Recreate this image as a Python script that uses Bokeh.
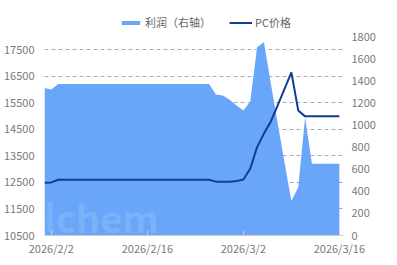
import pandas as pd
from bokeh.plotting import figure
from bokeh.models import (ColumnDataSource, Range1d, LinearAxis, FixedTicker,
                          Legend, LegendItem, Label)
from bokeh.embed import file_html
from bokeh.resources import INLINE

# ---- data ----
start_date = "2026-02-01"
end_date = "2026-03-16"
profit = [1334, 1320, 1370, 1370, 1370, 1370, 1370, 1370, 1370, 1370,
          1370, 1370, 1370, 1370, 1370, 1370, 1370, 1370, 1370, 1370,
          1370, 1370, 1370, 1370, 1370, 1275, 1266, 1228, 1176, 1130,
          1212, 1703, 1748, 1378, 1018, 660, 312, 437, 1067, 650,
          650, 650, 650, 650]
pc_price = [12490, 12500, 12600, 12600, 12600, 12600, 12600, 12600, 12600, 12600,
            12600, 12600, 12600, 12600, 12600, 12600, 12600, 12600, 12600, 12600,
            12600, 12600, 12600, 12600, 12600, 12530, 12530, 12530, 12550, 12610,
            13015, 13830, 14340, 14800, 15400, 16030, 16650, 15210, 14990, 14990,
            14990, 14990, 14990, 14990]
x_tick_dates = ["2026-02-02", "2026-02-16", "2026-03-02", "2026-03-16"]
x_tick_labels = ["2026/2/2", "2026/2/16", "2026/3/2", "2026/3/16"]
left_ticks = [10500, 11500, 12500, 13500, 14500, 15500, 16500, 17500]
right_ticks = [0, 200, 400, 600, 800, 1000, 1200, 1400, 1600, 1800]
left_axis_min, left_axis_max = 10500, 18000
right_axis_min, right_axis_max = 0, 1800
series_names = ["利润（右轴）", "PC价格"]

dates = pd.date_range(start_date, end_date, freq="D")
source = ColumnDataSource(data=dict(date=dates, profit=profit, pc=pc_price))

def ms(d):
    return pd.Timestamp(d).value // 10**6

DAY = 86400000
FONT = "Noto Sans CJK SC"
LABEL_COLOR = "#7a7a7a"

# axis area spans 199 px; frame is extended 24 px upward to host the legend
AXIS_PX = 199
EXTRA_PX = 24
scale = (AXIS_PX + EXTRA_PX) / AXIS_PX
left_top = left_axis_min + (left_axis_max - left_axis_min) * scale
right_top = right_axis_min + (right_axis_max - right_axis_min) * scale

p = figure(width=397, height=265, x_axis_type="datetime",
           x_range=Range1d(ms(start_date), ms(end_date) + 0.6 * DAY),
           y_range=Range1d(left_axis_min, left_top),
           output_backend="svg", toolbar_location=None,
           min_border_left=43, min_border_right=54,
           min_border_top=36 - EXTRA_PX, min_border_bottom=30)
p.outline_line_color = None
p.background_fill_color = "white"
p.border_fill_color = "white"

p.extra_y_ranges = {"r": Range1d(right_axis_min, right_top)}

area = p.varea(x="date", y1=0, y2="profit", source=source, y_range_name="r",
               fill_color="#69a6f9", fill_alpha=1.0)
ln = p.line(x="date", y="pc", source=source, line_color="#0e3f8f", line_width=2)

# x axis
xa = p.xaxis[0]
tick_ms = [ms(d) for d in x_tick_dates]
xa.ticker = FixedTicker(ticks=tick_ms)
xa.major_label_overrides = {t: l for t, l in zip(tick_ms, x_tick_labels)}
xa.axis_line_color = "#cccccc"
xa.major_tick_line_color = "#cccccc"
xa.major_tick_in = 5
xa.major_tick_out = 0
xa.minor_tick_line_color = None
xa.major_label_text_font = FONT
xa.major_label_text_font_size = "11px"
xa.major_label_text_color = LABEL_COLOR
xa.major_label_standoff = 4

# left y axis
ya = p.yaxis[0]
ya.ticker = FixedTicker(ticks=left_ticks)
ya.axis_line_color = None
ya.major_tick_line_color = None
ya.minor_tick_line_color = None
ya.major_label_text_font = FONT
ya.major_label_text_font_size = "11px"
ya.major_label_text_color = LABEL_COLOR
ya.major_label_standoff = 4

# right y axis
ra = LinearAxis(y_range_name="r", ticker=FixedTicker(ticks=right_ticks))
ra.axis_line_color = None
ra.major_tick_line_color = None
ra.minor_tick_line_color = None
ra.major_label_text_font = FONT
ra.major_label_text_font_size = "11px"
ra.major_label_text_color = LABEL_COLOR
ra.major_label_standoff = 2
p.add_layout(ra, "right")

# grid
p.xgrid.visible = False
p.ygrid.ticker = FixedTicker(ticks=left_ticks)
p.ygrid.grid_line_color = "#aaaaaa"
p.ygrid.grid_line_dash = "4 3"
p.ygrid.grid_line_width = 1

# faint watermark
wm = Label(x=-36, y=-8, x_units="screen", y_units="screen", text="oilchem",
           text_font=FONT, text_font_size="38px", text_font_style="bold",
           text_color="#ffffff", text_alpha=0.12)
p.add_layout(wm)

legend = Legend(items=[LegendItem(label=series_names[0], renderers=[area]),
                       LegendItem(label=series_names[1], renderers=[ln])],
                orientation="horizontal", location=(75, 205),
                glyph_width=23, glyph_height=5, label_standoff=3, spacing=18,
                padding=0, margin=0,
                label_text_font=FONT, label_text_font_size="11px",
                label_text_color="#666666",
                background_fill_alpha=0, border_line_color=None)
p.add_layout(legend)

open("out.html", "w").write(file_html(p, INLINE))
